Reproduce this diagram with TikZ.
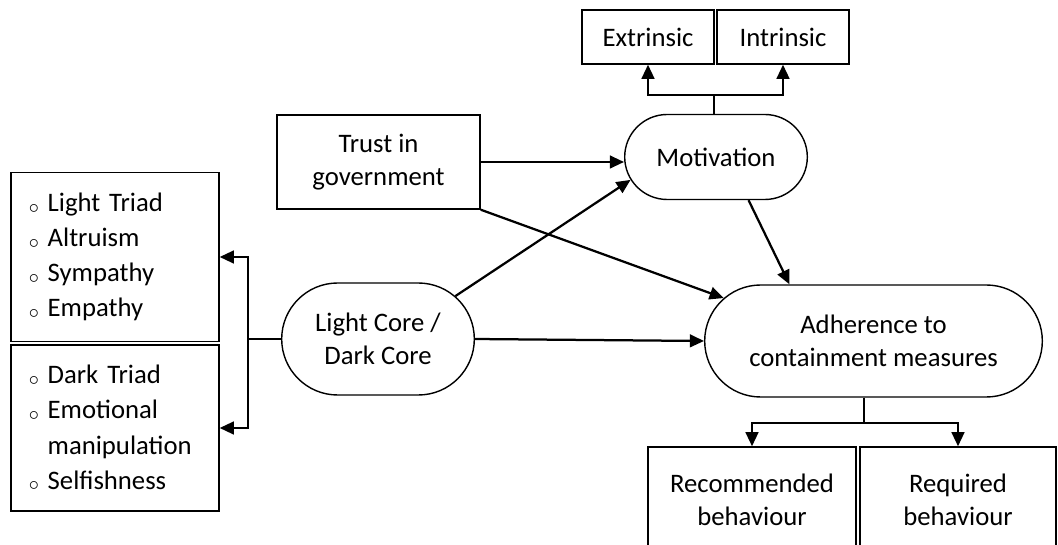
\documentclass[tikz,border=0pt]{standalone}
\usepackage{fontspec}
\setmainfont{Carlito}
\usetikzlibrary{arrows.meta,shapes.misc}
\newcommand{\itm}{\makebox[0.7em][l]{\raisebox{-1.2pt}{$\scriptstyle\circ$}}}
\begin{document}
\begin{tikzpicture}[font=\fontsize{19}{23.5}\selectfont,
  box/.style={draw,line width=1pt,rectangle,align=center},
  oval/.style={draw,line width=1pt,rounded rectangle,align=center},
  list/.style={draw,line width=1pt,rectangle,align=left,text width=4.3cm,inner xsep=.45cm,
    minimum width=5.2cm,font=\fontsize{19}{25}\selectfont},
  arr/.style={line width=1.6pt,-{Triangle[length=10pt,width=9pt]}},
  ln/.style={line width=1.6pt}]
\clip (0,0) rectangle (26.45,13.6);
\node[box,minimum width=3.3cm,minimum height=1.35cm] (ext) at (16.2,12.675) {Extrinsic};
\node[box,minimum width=3.3cm,minimum height=1.35cm] (int) at (19.575,12.675) {Intrinsic};
\node[oval,minimum width=4.8cm,minimum height=2.125cm] (mot) at (17.9,9.675) {Motivation};
\node[box,minimum width=5.075cm,minimum height=2.35cm] (trust) at (9.4625,9.55) {Trust in\\government};
\node[oval,minimum width=5.05cm,minimum height=2.8cm] (core) at (9.45,5.125) {Light Core /\\Dark Core};
\node[oval,minimum width=8.675cm,minimum height=2.8cm] (adh) at (21.8375,5.075) {Adherence to\\containment measures};
\node[list,minimum height=4.225cm] (light) at (2.875,7.175) {\itm Light Triad\\\itm Altruism\\\itm Sympathy\\\itm Empathy};
\node[list,minimum height=4.15cm] (dark) at (2.875,2.9) {\itm Dark Triad\\\itm Emotional\\\hspace*{0.7em}manipulation\\\itm Selfishness};
\node[box,minimum width=5.2cm,minimum height=2.65cm] (rec) at (18.8,1.1) {Recommended\\behaviour};
\node[box,minimum width=4.9cm,minimum height=2.65cm] (req) at (23.95,1.1) {Required\\behaviour};
\coordinate (mj) at (17.85,11.225);
\coordinate (cj) at (6.2,5.125);
\coordinate (aj) at (21.6,3.025);
\draw[ln] (mot.north -| mj)--(mj);
\draw[arr] (mj)-|(ext.south);
\draw[arr] (mj)-|(int.south);
\draw[arr] (trust.east)--(trust.east -| mot.west);
\draw[arr] (trust.south east)--(adh.164);
\draw[arr] (mot.-53)--(adh.146);
\draw[arr] (core.29)--(mot.195);
\draw[arr] (core.east)--(adh.west);
\draw[ln] (core.west)--(cj);
\draw[arr] (cj)|-(light.east);
\draw[arr] (cj)|-(dark.east);
\draw[ln] (adh.south -| aj)--(aj);
\draw[arr] (aj)-|(rec.north);
\draw[arr] (aj)-|(req.north);
\end{tikzpicture}
\end{document}
